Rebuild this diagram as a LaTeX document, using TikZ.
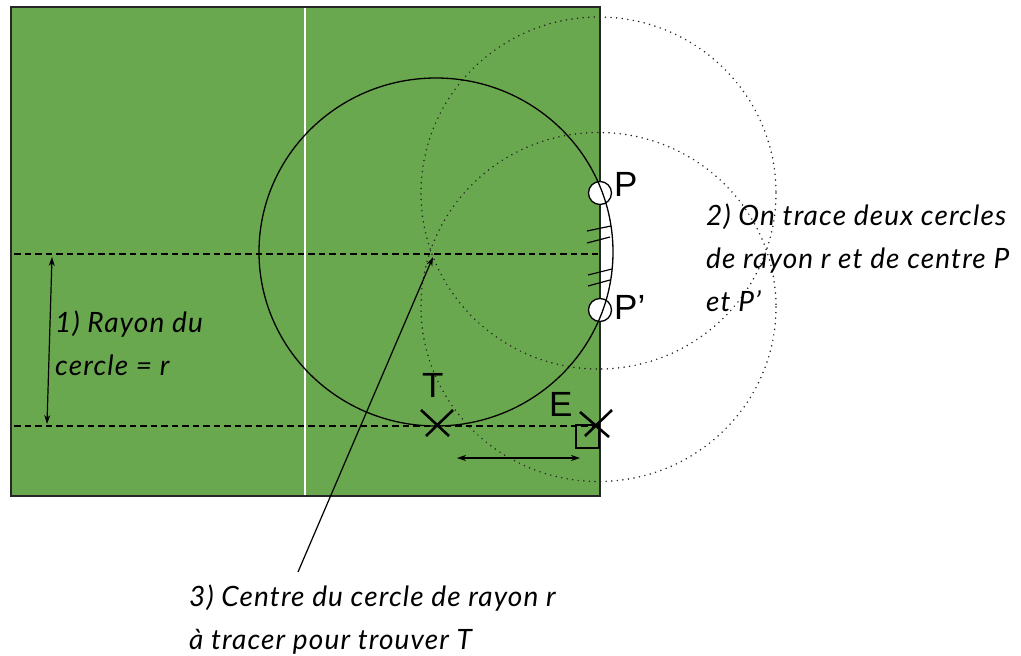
\documentclass[tikz,border=0pt]{standalone}
\usepackage{fontspec}
\setmainfont{Liberation Sans}
\newfontfamily\handfont{Lato Italic}[LetterSpace=4]
\usetikzlibrary{arrows.meta}
\definecolor{grass}{HTML}{6AA84F}
\tikzset{
  x=1pt,y=-1pt,
  solidline/.style={black,line width=1.3pt},
  dashline/.style={black,line width=1.2pt,dash pattern=on 6.5pt off 4pt},
  dotcircle/.style={black!85,line width=1.7pt,dash pattern=on 0pt off 5.6pt,line cap=round},
  tick/.style={black,line width=1.2pt},
  cross/.style={black,line width=2.6pt},
  dblarrow/.style={black,line width=1.2pt,{Stealth[length=9pt,width=6pt]}-{Stealth[length=9pt,width=6pt]}},
  onearrow/.style={black,line width=1.2pt,-{Stealth[length=9pt,width=6pt]}},
  hole/.style={circle,draw=black,line width=1.3pt,fill=white,minimum size=23pt,inner sep=0pt},
  letter/.style={font=\fontsize{35}{35}\selectfont,inner sep=0pt,anchor=base west},
  note/.style={font=\handfont\fontsize{28}{43}\selectfont,inner sep=0pt,anchor=base west,align=left},
}
\begin{document}
\begin{tikzpicture}
\useasboundingbox (0,0) rectangle (1021,656);
% field
\fill[grass] (11,7) rectangle (600,496);
\draw[white,line width=1.3pt] (305,7) -- (305,496);
\draw[black!85,line width=1.2pt] (11,7) rectangle (600,496);
% construction
\coordinate (A1) at (14,254); \coordinate (A2) at (600,254);
\coordinate (B1) at (14,426); \coordinate (B2) at (600,426);
\draw[dashline] (A1) -- (A2);
\draw[dashline] (B1) -- (B2);
\draw[dotcircle] (598.5,193) ellipse[x radius=177.5,y radius=176];
\draw[dotcircle] (598.5,307) ellipse[x radius=177.5,y radius=174.5];
% ticks
\draw[tick] (587,231) -- (611,226);
\draw[tick] (587,243) -- (610,237);
\draw[tick] (588,275) -- (612,269);
\draw[tick] (588,286) -- (610,280);
% P points
\node[hole] (P) at (600,193) {};
\node[hole] (Pp) at (600,310) {};
\draw[solidline] (436,252) ellipse[x radius=177,y radius=174];
\node[letter] (Pl) at (614,196) {P};
\node[letter] (Ppl) at (614,319) {P’};
% T and E
\coordinate (T1) at (421,410); \coordinate (T2) at (449,436);
\coordinate (T3) at (453,410); \coordinate (T4) at (426,436);
\draw[cross] (T1) -- (T2);
\draw[cross] (T3) -- (T4);
\node[letter] (Tl) at (422,397) {T};
\coordinate (E1) at (580,412); \coordinate (E2) at (609,437);
\coordinate (E3) at (612,410); \coordinate (E4) at (585,436);
\draw[black,line width=1.2pt] (576,425) rectangle (599,448);
\draw[cross] (E1) -- (E2);
\draw[cross] (E3) -- (E4);
\node[letter] (El) at (549,416) {E};
% arrows
\coordinate (R1) at (52,257); \coordinate (R2) at (47,424);
\draw[dblarrow] (R1) -- (R2);
\coordinate (D1) at (457,458); \coordinate (D2) at (580,458);
\draw[dblarrow] (D1) -- (D2);
\coordinate (C1) at (298,572); \coordinate (C2) at (433,257);
\draw[onearrow] (C1) -- (C2);
% notes
\node[note] (n1) at (55,375) {1) Rayon du\\cercle = r};
\node[note] (n2) at (706,311) {2) On trace deux cercles\\de rayon r et de centre P\\et P’};
\node[note] (n3) at (189,649) {3) Centre du cercle de rayon r\\à tracer pour trouver T};
\end{tikzpicture}
\end{document}
